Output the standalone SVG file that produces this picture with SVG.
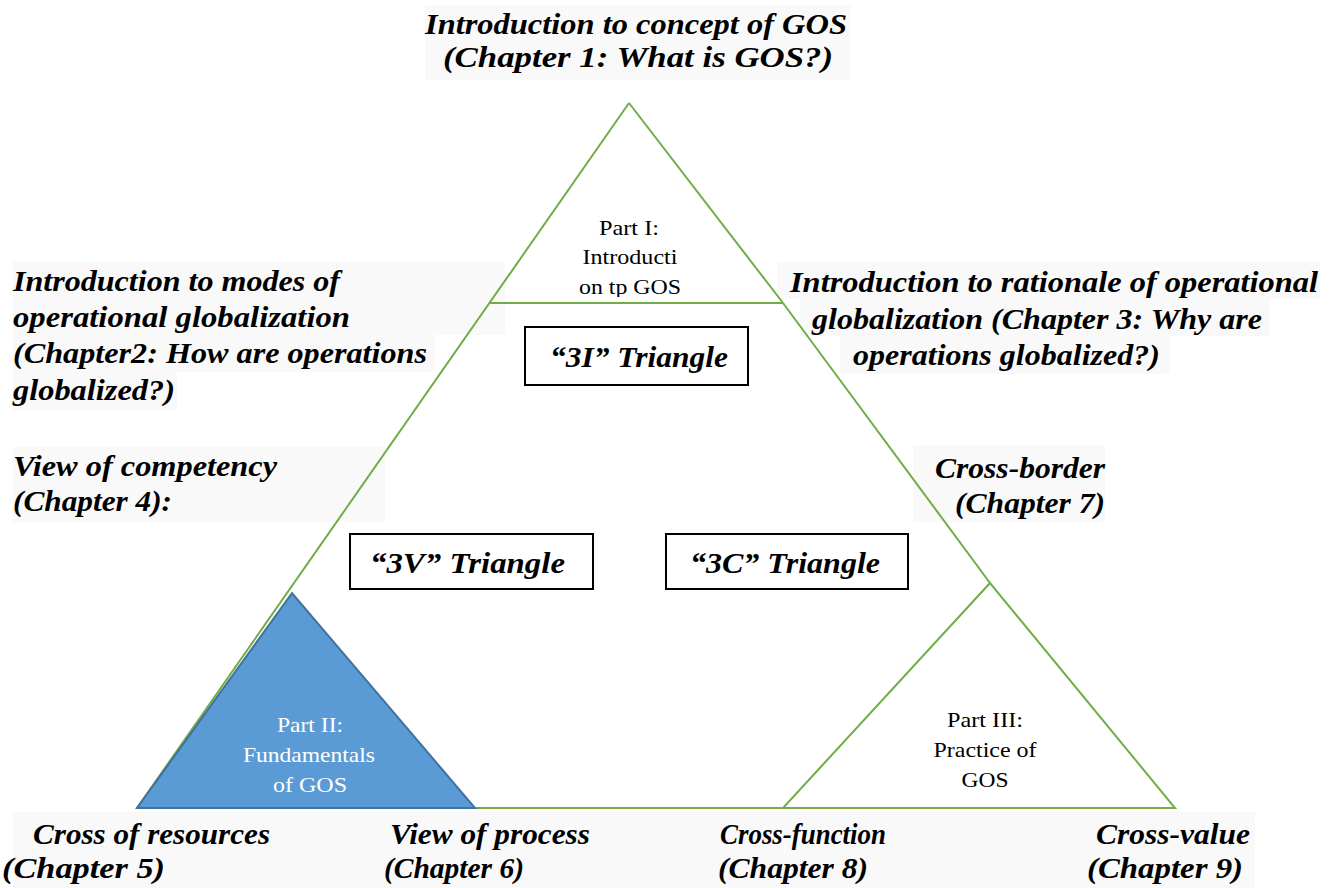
<svg xmlns="http://www.w3.org/2000/svg" width="1335" height="888" viewBox="0 0 1335 888">
<style>
.bg{fill:#F9F9F9}
.t{font-family:'Liberation Serif',serif;font-weight:bold;font-style:italic;font-size:30px;fill:#000}
.p{font-family:'Liberation Serif',serif;font-size:22px;fill:#000;text-anchor:middle}
.w{fill:#fff}
.g{stroke:#70AD47;stroke-width:2;fill:none}
.box{fill:#fff;stroke:#000;stroke-width:2}
</style>
<defs>
<clipPath id="c1"><rect x="480" y="200" width="320" height="97"/></clipPath>
</defs>
<rect width="1335" height="888" fill="#fff"/>
<g id="backgrounds">
<rect class="bg" x="425" y="5" width="425" height="75"/>
<rect class="bg" x="13" y="262" width="492" height="73"/>
<rect class="bg" x="13" y="335" width="422" height="37"/>
<rect class="bg" x="13" y="372" width="164" height="38"/>
<rect class="bg" x="13" y="447" width="372" height="75"/>
<rect class="bg" x="777" y="262" width="543" height="37"/>
<rect class="bg" x="800" y="299" width="470" height="37"/>
<rect class="bg" x="840" y="336" width="330" height="38"/>
<rect class="bg" x="913" y="445" width="192" height="77"/>
<rect class="bg" x="13" y="812" width="1242" height="76"/>
</g>
<g id="connectors">
<line class="g" x1="629" y1="103" x2="137" y2="808"/>
<line class="g" x1="629" y1="103" x2="783" y2="303"/>
<line class="g" x1="490" y1="303" x2="783" y2="303"/>
<line class="g" x1="783" y1="303" x2="990" y2="583"/>
<line class="g" x1="475" y1="808" x2="783" y2="808"/>
</g>
<g id="part1">
<g clip-path="url(#c1)">
<text class="p" x="629" y="235" textLength="60" lengthAdjust="spacingAndGlyphs">Part I:</text>
<text class="p" x="630" y="264" textLength="95" lengthAdjust="spacingAndGlyphs">Introducti</text>
<text class="p" x="630" y="294" textLength="102" lengthAdjust="spacingAndGlyphs">on tp GOS</text>
</g>
</g>
<g id="part2">
<polygon points="292,593 137,808 475,808" fill="#5B9BD5" stroke="#41719C" stroke-width="2"/>
<text class="p w" x="310" y="732" textLength="66" lengthAdjust="spacingAndGlyphs">Part II:</text>
<text class="p w" x="309" y="762" textLength="132" lengthAdjust="spacingAndGlyphs">Fundamentals</text>
<text class="p w" x="310" y="792" textLength="74" lengthAdjust="spacingAndGlyphs">of GOS</text>
</g>
<g id="part3">
<polygon class="g" points="990,583 783,808 1175,808"/>
<text class="p" x="985" y="727" textLength="76" lengthAdjust="spacingAndGlyphs">Part III:</text>
<text class="p" x="985" y="757" textLength="103" lengthAdjust="spacingAndGlyphs">Practice of</text>
<text class="p" x="985" y="787" textLength="47" lengthAdjust="spacingAndGlyphs">GOS</text>
</g>
<g id="box3I">
<rect class="box" x="525" y="327" width="223" height="58"/>
<text class="t" x="550" y="367" textLength="178" lengthAdjust="spacingAndGlyphs">“3I” Triangle</text>
</g>
<g id="box3V">
<rect class="box" x="350" y="534" width="243" height="55"/>
<text class="t" x="370" y="573" textLength="195" lengthAdjust="spacingAndGlyphs">“3V” Triangle</text>
</g>
<g id="box3C">
<rect class="box" x="666" y="534" width="242" height="55"/>
<text class="t" x="690" y="573" textLength="190" lengthAdjust="spacingAndGlyphs">“3C” Triangle</text>
</g>
<g id="title">
<text class="t" x="425" y="34" textLength="422" lengthAdjust="spacingAndGlyphs">Introduction to concept of GOS</text>
<text class="t" x="443" y="67" textLength="390" lengthAdjust="spacingAndGlyphs">(Chapter 1: What is GOS?)</text>
</g>
<g id="modes">
<text class="t" x="13" y="291" textLength="327" lengthAdjust="spacingAndGlyphs">Introduction to modes of</text>
<text class="t" x="13" y="327" textLength="337" lengthAdjust="spacingAndGlyphs">operational globalization</text>
<text class="t" x="13" y="363" textLength="414" lengthAdjust="spacingAndGlyphs">(Chapter2: How are operations</text>
<text class="t" x="13" y="400" textLength="162" lengthAdjust="spacingAndGlyphs">globalized?)</text>
</g>
<g id="competency">
<text class="t" x="13" y="476" textLength="264" lengthAdjust="spacingAndGlyphs">View of competency</text>
<text class="t" x="13" y="511" textLength="159" lengthAdjust="spacingAndGlyphs">(Chapter 4):</text>
</g>
<g id="rationale">
<text class="t" x="790" y="292" textLength="528" lengthAdjust="spacingAndGlyphs">Introduction to rationale of operational</text>
<text class="t" x="812" y="329" textLength="450" lengthAdjust="spacingAndGlyphs">globalization (Chapter 3: Why are</text>
<text class="t" x="853" y="365" textLength="307" lengthAdjust="spacingAndGlyphs">operations globalized?)</text>
</g>
<g id="crossborder">
<text class="t" x="935" y="478" textLength="170" lengthAdjust="spacingAndGlyphs">Cross-border</text>
<text class="t" x="955" y="513" textLength="150" lengthAdjust="spacingAndGlyphs">(Chapter 7)</text>
</g>
<g id="resources">
<text class="t" x="33" y="844" textLength="237" lengthAdjust="spacingAndGlyphs">Cross of resources</text>
<text class="t" x="2" y="878" textLength="163" lengthAdjust="spacingAndGlyphs">(Chapter 5)</text>
</g>
<g id="process">
<text class="t" x="390" y="844" textLength="200" lengthAdjust="spacingAndGlyphs">View of process</text>
<text class="t" x="384" y="878" textLength="140" lengthAdjust="spacingAndGlyphs">(Chapter 6)</text>
</g>
<g id="function">
<text class="t" x="720" y="844" textLength="166" lengthAdjust="spacingAndGlyphs">Cross-function</text>
<text class="t" x="718" y="878" textLength="150" lengthAdjust="spacingAndGlyphs">(Chapter 8)</text>
</g>
<g id="value">
<text class="t" x="1096" y="844" textLength="154" lengthAdjust="spacingAndGlyphs">Cross-value</text>
<text class="t" x="1087" y="878" textLength="156" lengthAdjust="spacingAndGlyphs">(Chapter 9)</text>
</g>
</svg>
